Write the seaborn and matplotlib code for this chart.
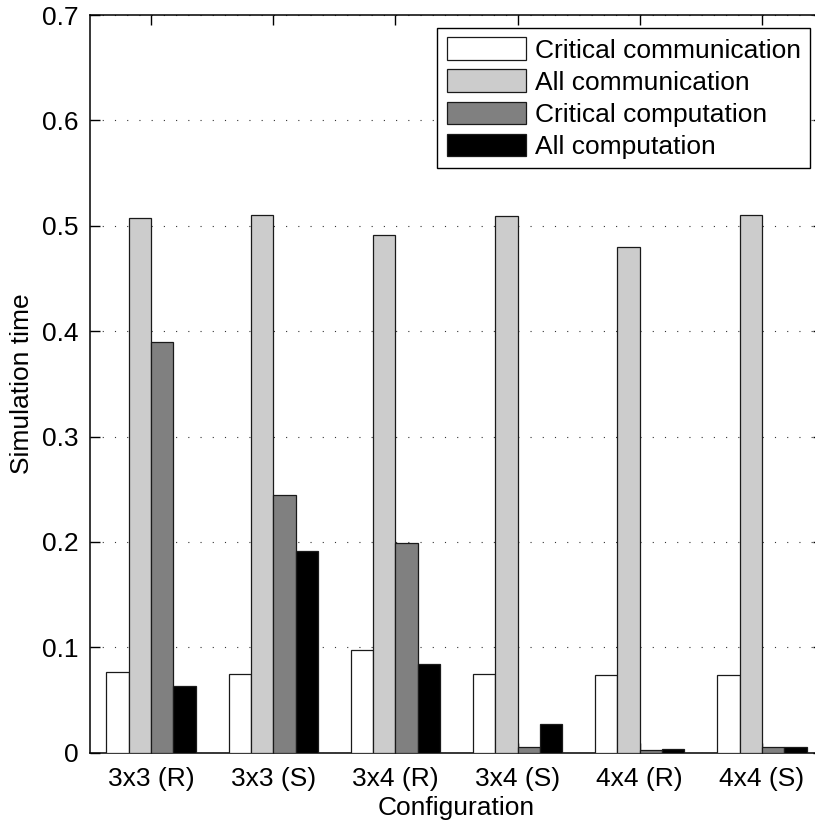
import numpy as np
import pandas as pd
import matplotlib
matplotlib.use("Agg")
import matplotlib.pyplot as plt
from matplotlib.patches import Patch
import seaborn as sns

configs = ["3x3 (R)", "3x3 (S)", "3x4 (R)", "3x4 (S)", "4x4 (R)", "4x4 (S)"]
series = ["Critical communication", "All communication",
          "Critical computation", "All computation"]
crit_comm = [0.077, 0.075, 0.097, 0.075, 0.074, 0.074]
all_comm = [0.507, 0.510, 0.491, 0.509, 0.480, 0.510]
crit_comp = [0.390, 0.245, 0.199, 0.005, 0.0026, 0.005]
all_comp = [0.063, 0.191, 0.0845, 0.027, 0.0035, 0.0054]
colors = ["#ffffff", "#cccccc", "#808080", "#000000"]
yticks = [0, 0.1, 0.2, 0.3, 0.4, 0.5, 0.6, 0.7]
ytick_labels = ["0", "0.1", "0.2", "0.3", "0.4", "0.5", "0.6", "0.7"]

rows = []
for name, vals in zip(series, [crit_comm, all_comm, crit_comp, all_comp]):
    for c, v in zip(configs, vals):
        rows.append({"Configuration": c, "Series": name, "Value": v})
df = pd.DataFrame(rows)

sns.set_theme(style="white")
plt.rcParams["font.family"] = ["Liberation Sans", "DejaVu Sans"]
plt.rcParams["font.size"] = 19
for k in ["text.color", "axes.labelcolor", "xtick.color", "ytick.color"]:
    plt.rcParams[k] = "black"

fig = plt.figure(figsize=(8.15, 8.23), dpi=100)
ax = fig.add_axes([90 / 815, 1 - 752.7 / 823, (823 - 90) / 815, (752.7 - 15) / 823])

sns.barplot(data=df, x="Configuration", y="Value", hue="Series",
            hue_order=series, order=configs, palette=colors,
            width=0.73, edgecolor="#1a1a1a", linewidth=0.9,
            saturation=1, ax=ax, legend=False, zorder=3)

ax.set_xlim(-0.5, 5.5)
ax.set_ylim(0, 0.7)
ax.set_yticks(yticks)
ax.set_yticklabels(ytick_labels, fontsize=19)
ax.tick_params(axis="x", labelsize=19, pad=10)
ax.tick_params(axis="y", pad=8)
ax.tick_params(direction="in", length=7, width=1, top=True, right=True,
               bottom=True, left=True, color="black", labelcolor="black")
ax.set_xlabel("Configuration", fontsize=19, labelpad=4, color="black")
ax.set_ylabel("Simulation time", fontsize=19, labelpad=6, color="black")

ax.yaxis.grid(True, linestyle=(0, (1, 10)), color="0.2", linewidth=0.8, zorder=0)
ax.xaxis.grid(False)
ax.set_axisbelow(True)
for s in ax.spines.values():
    s.set_visible(True)
    s.set_color("black")
    s.set_linewidth(1.1)

handles = [Patch(facecolor=c, edgecolor="#1a1a1a", linewidth=0.9) for c in colors]
leg = ax.legend(handles, series, loc="upper right", fontsize=19,
                frameon=True, fancybox=False, edgecolor="black",
                framealpha=1, handlelength=3.0, handleheight=0.95,
                handletextpad=0.33, labelspacing=0.25, borderpad=0.35,
                borderaxespad=0.5)
leg.get_frame().set_linewidth(1.0)
for t in leg.get_texts():
    t.set_color("black")

fig.savefig("out.png", dpi=100)
